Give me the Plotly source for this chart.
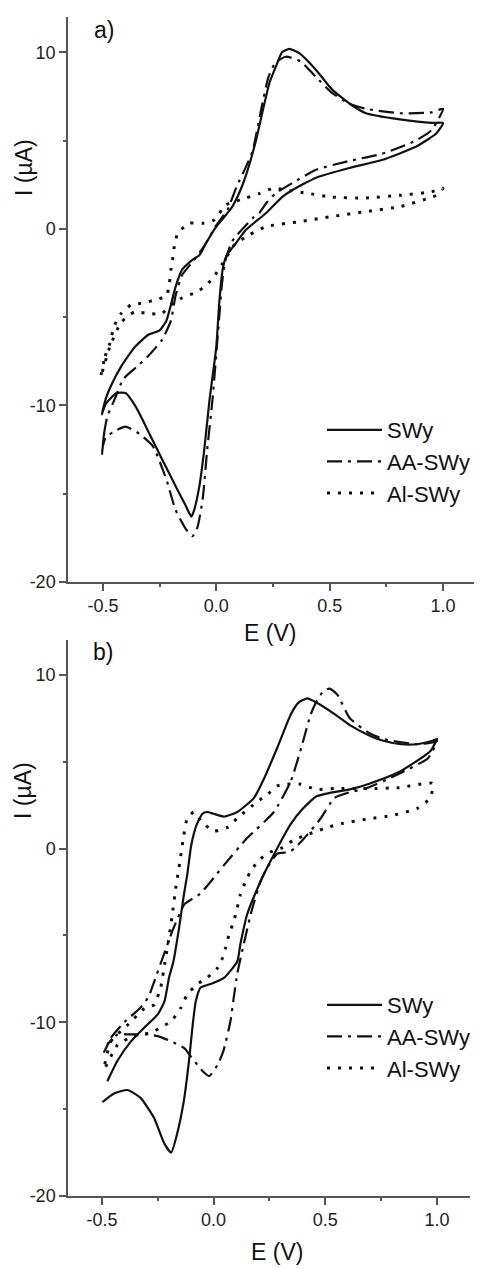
import plotly.graph_objects as go

# ---------------- data ----------------
SERIES = ["SWy", "AA-SWy", "Al-SWy"]

# Panel a) -- SWy
E_A_SWY = [-0.505, -0.487, -0.465, -0.42, -0.36, -0.30, -0.25, -0.22, -0.20, -0.18, -0.15, -0.105, -0.075,
           -0.045, 0.0, 0.043, 0.07, 0.10, 0.13, 0.175, 0.205, 0.234, 0.263, 0.29, 0.322, 0.366, 0.44, 0.51,
           0.587, 0.66, 0.81, 0.95, 1.0,
           0.97, 0.88, 0.73, 0.587, 0.44, 0.336, 0.29, 0.22, 0.13, 0.087, 0.043, 0.028, 0.013, 0.0, -0.03,
           -0.053, -0.075, -0.097, -0.11, -0.134, -0.178, -0.237, -0.295, -0.354, -0.40, -0.44, -0.487, -0.505]
I_A_SWY = [-10.5, -9.6, -8.9, -7.8, -6.7, -6.0, -5.75, -5.2, -4.3, -3.3, -2.3, -1.75, -1.5,
           -0.8, 0.13, 0.8, 1.25, 2.0, 3.0, 5.0, 6.7, 8.25, 9.2, 10.0, 10.2, 9.95, 9.0, 7.9,
           7.1, 6.55, 6.2, 6.0, 6.0,
           5.4, 4.65, 3.9, 3.45, 2.9, 2.2, 1.8, 0.9, -0.06, -0.8, -1.57, -2.3, -4.2, -6.7, -9.7,
           -12.5, -14.6, -15.9, -16.3, -15.7, -14.6, -13.1, -11.6, -10.1, -9.3, -9.3, -9.9, -10.5]

# Panel a) -- AA-SWy
E_A_AA = [-0.505, -0.495, -0.48, -0.45, -0.41, -0.35, -0.30, -0.24, -0.20, -0.18, -0.15, -0.10, -0.05, 0.0,
          0.05, 0.09, 0.13, 0.16, 0.20, 0.23, 0.26, 0.307, 0.37, 0.44, 0.51, 0.587, 0.66, 0.81, 0.95, 1.0,
          0.95, 0.88, 0.73, 0.587, 0.44, 0.336, 0.26, 0.22, 0.19, 0.16, 0.07, 0.04, 0.025, 0.013, -0.017,
          -0.04, -0.06, -0.083, -0.105, -0.134, -0.18, -0.22, -0.28, -0.34, -0.40, -0.44, -0.487, -0.50, -0.505]
I_A_AA = [-12.9, -11.6, -10.6, -9.7, -8.5, -7.8, -7.2, -6.3, -5.2, -3.8, -2.6, -1.8, -0.9, 0.2,
          1.1, 2.4, 3.5, 4.4, 6.9, 8.6, 9.4, 9.75, 9.5, 8.6, 7.7, 7.1, 6.8, 6.55, 6.6, 6.8,
          5.6, 5.0, 4.25, 3.85, 3.35, 2.6, 2.0, 1.45, 0.9, 0.6, -0.7, -1.8, -3.1, -5.0, -9.7,
          -12.5, -15.3, -16.9, -17.4, -17.0, -15.9, -14.2, -12.3, -11.6, -11.2, -11.4, -11.8, -12.3, -12.9]

# Panel a) -- Al-SWy
E_A_AL = [-0.51, -0.49, -0.47, -0.45, -0.42, -0.376, -0.32, -0.266, -0.22, -0.207, -0.20, -0.193, -0.185,
          -0.17, -0.12, -0.06, -0.01, 0.043, 0.13, 0.19, 0.25, 0.31, 0.41, 0.51, 0.66, 0.81, 0.95, 1.0,
          0.97, 0.94, 0.81, 0.66, 0.51, 0.37, 0.22, 0.146, 0.08, 0.04, -0.01, -0.045, -0.09, -0.15, -0.20,
          -0.24, -0.30, -0.36, -0.42, -0.47, -0.51]
I_A_AL = [-8.4, -7.2, -6.5, -5.5, -4.8, -4.3, -4.2, -4.0, -3.8, -3.1, -2.3, -1.75, -1.0,
          -0.25, 0.32, 0.32, 0.5, 1.36, 1.74, 2.0, 2.3, 2.2, 2.0, 1.8, 1.75, 1.9, 2.1, 2.3,
          1.9, 1.75, 1.26, 0.98, 0.7, 0.41, 0.13, -0.34, -0.9, -1.7, -2.7, -3.2, -3.6, -3.9, -4.3,
          -4.8, -4.8, -4.7, -5.3, -6.7, -8.4]

# Panel b) -- SWy
E_B_SWY = [-0.476, -0.43, -0.37, -0.31, -0.25, -0.22, -0.20, -0.18, -0.155, -0.133, -0.118, -0.10, -0.075,
           -0.05, -0.03, 0.0, 0.046, 0.106, 0.18, 0.225, 0.285, 0.345, 0.38, 0.42, 0.46, 0.54, 0.61, 0.69,
           0.76, 0.84, 0.91, 0.98, 1.0,
           0.97, 0.83, 0.69, 0.61, 0.52, 0.46, 0.40, 0.345, 0.285, 0.24, 0.21, 0.15, 0.12, 0.106, 0.046,
           -0.013, -0.058, -0.08, -0.095, -0.11, -0.133, -0.163, -0.19, -0.22, -0.267, -0.327, -0.386,
           -0.446, -0.498]
I_B_SWY = [-13.4, -12.2, -11.1, -10.3, -9.55, -8.8, -7.45, -6.5, -4.6, -2.65, -1.5, 0.2, 1.4,
           2.0, 2.1, 2.0, 1.84, 2.1, 2.9, 4.0, 5.8, 7.7, 8.4, 8.64, 8.4, 7.75, 7.1, 6.55,
           6.2, 6.0, 6.0, 6.2, 6.3,
           5.6, 4.4, 3.7, 3.4, 3.2, 3.0, 2.3, 1.4, 0.02, -1.1, -1.9, -3.8, -5.5, -6.5, -7.45,
           -7.8, -8.0, -8.8, -10.3, -12.2, -14.5, -16.4, -17.5, -17.0, -15.5, -14.35, -13.9,
           -14.1, -14.6]

# Panel b) -- AA-SWy
E_B_AA = [-0.49, -0.46, -0.40, -0.33, -0.29, -0.27, -0.22, -0.18, -0.13, -0.06, 0.0, 0.05, 0.15, 0.27,
          0.345, 0.397, 0.434, 0.46, 0.494, 0.52, 0.554, 0.61, 0.69, 0.76, 0.91, 0.98, 1.0,
          0.96, 0.83, 0.69, 0.60, 0.54, 0.48, 0.42, 0.37, 0.34, 0.285, 0.24, 0.21, 0.17, 0.135, 0.106,
          0.09, 0.076, 0.045, 0.02, -0.02, -0.05, -0.07, -0.10, -0.13, -0.19, -0.25, -0.30, -0.38, -0.43,
          -0.47, -0.49]
I_B_AA = [-11.7, -10.9, -10.0, -9.2, -8.5, -7.8, -6.0, -4.6, -3.2, -2.6, -1.7, -0.9, 0.6, 2.1,
          3.85, 6.0, 7.7, 8.45, 9.1, 9.2, 8.85, 7.5, 6.7, 6.3, 6.0, 6.1, 6.2,
          5.2, 4.3, 3.5, 3.2, 2.9, 1.74, 0.8, 0.1, -0.2, -0.3, -1.1, -1.9, -3.6, -5.5, -7.2,
          -8.6, -9.9, -11.6, -12.4, -13.1, -12.8, -12.5, -12.0, -11.5, -11.1, -10.8, -10.7, -10.7, -10.7,
          -11.2, -11.7]

# Panel b) -- Al-SWy
E_B_AL = [-0.49, -0.46, -0.38, -0.31, -0.267, -0.237, -0.22, -0.20, -0.185, -0.17, -0.155, -0.148, -0.133,
          -0.118, -0.088, -0.05, 0.0, 0.06, 0.106, 0.196, 0.24, 0.285, 0.33, 0.39, 0.46, 0.54, 0.69, 0.83,
          0.98,
          0.97, 0.91, 0.80, 0.69, 0.58, 0.52, 0.42, 0.36, 0.30, 0.255, 0.21, 0.17, 0.143, 0.12, 0.106,
          0.09, 0.07, 0.054, 0.04, 0.016, -0.03, -0.073, -0.118, -0.148, -0.19, -0.237, -0.28, -0.36,
          -0.43, -0.49]
I_B_AL = [-12.7, -11.1, -10.1, -9.2, -9.0, -8.0, -6.7, -5.15, -3.8, -2.3, -1.1, -0.5, 0.8,
          1.74, 2.1, 1.5, 1.0, 1.2, 1.74, 2.7, 3.1, 3.6, 3.7, 3.7, 3.4, 3.45, 3.45, 3.5,
          3.75,
          2.9, 2.3, 1.9, 1.7, 1.45, 1.26, 0.8, 0.5, 0.0, -0.2, -0.6, -1.2, -1.9, -2.65, -3.4,
          -4.2, -4.9, -5.7, -6.3, -6.9, -7.45, -7.8, -8.4, -9.2, -9.95, -10.3, -10.6, -10.8,
          -11.3, -12.7]

X_TICKS = [-0.5, 0.0, 0.5, 1.0]
X_TICKTEXT = ["-0.5", "0.0", "0.5", "1.0"]
Y_TICKS = [-20, -10, 0, 10]
Y_TICKTEXT = ["-20", "-10", "0", "10"]

# ---------------- styling ----------------
FONT = "Arial, 'Liberation Sans', sans-serif"
INK = "#111111"
AXC = "#555555"
STYLES = {
    "SWy": dict(width=2.2, dash="solid"),
    "AA-SWy": dict(width=2.2, dash="15px,6px,3px,6px"),
    "Al-SWy": dict(width=3, dash="3px,8px"),
}

# the page body has an 8px margin: lay the figure out in reference pixels minus that offset
OFF = 8
W, H = 482 - OFF, 1269 - OFF
PLOT_L, PLOT_R, PLOT_T, PLOT_B = 68 - OFF, 480 - OFF, 17 - OFF, 1196 - OFF
ML, MR, MT, MB = PLOT_L, W - PLOT_R, PLOT_T, H - PLOT_B


def px_to_paper_x(px):
    return (px - OFF - PLOT_L) / (PLOT_R - PLOT_L)


def px_to_paper_y(py):
    return (PLOT_B - (py - OFF)) / (PLOT_B - PLOT_T)


fig = go.Figure()

panels = [
    ("x", "y", "legend", [(E_A_SWY, I_A_SWY), (E_A_AA, I_A_AA), (E_A_AL, I_A_AL)]),
    ("x2", "y2", "legend2", [(E_B_SWY, I_B_SWY), (E_B_AA, I_B_AA), (E_B_AL, I_B_AL)]),
]
for xa, ya, leg, data in panels:
    for name, (e, i) in zip(SERIES, data):
        st = STYLES[name]
        fig.add_trace(go.Scatter(
            x=e, y=i, mode="lines", name=name, xaxis=xa, yaxis=ya, legend=leg,
            line=dict(color=INK, width=st["width"], dash=st["dash"], shape="spline", smoothing=0.5),
            hoverinfo="skip",
        ))

axis_common = dict(
    showline=True, linecolor=AXC, linewidth=1.5, mirror=False,
    ticks="outside", ticklen=7, tickwidth=1.5, tickcolor=AXC,
    showgrid=False, zeroline=False,
    tickfont=dict(family=FONT, size=18, color="#222"),
)
xminor = dict(dtick=0.25, tick0=0, ticks="outside", ticklen=3, tickcolor=AXC, tickwidth=1.5)
yminor = dict(dtick=5, tick0=0, ticks="outside", ticklen=3, tickcolor=AXC, tickwidth=1.5)

fig.update_layout(
    width=W, height=H,
    margin=dict(l=ML, r=MR, t=MT, b=MB),
    paper_bgcolor="white", plot_bgcolor="white",
    font=dict(family=FONT, color=INK),
    xaxis=dict(domain=[0, 1], range=[-0.654, 1.163], anchor="y",
               tickvals=X_TICKS, ticktext=X_TICKTEXT, minor=xminor, **axis_common),
    yaxis=dict(domain=[px_to_paper_y(582), 1.0], range=[-20, 12], anchor="x",
               tickvals=Y_TICKS, ticktext=Y_TICKTEXT, minor=yminor, **axis_common),
    xaxis2=dict(domain=[0, px_to_paper_x(470)], range=[-0.652, 1.148], anchor="y2",
                tickvals=X_TICKS, ticktext=X_TICKTEXT, minor=xminor, **axis_common),
    yaxis2=dict(domain=[0, px_to_paper_y(640)], range=[-20, 12], anchor="x2",
                tickvals=Y_TICKS, ticktext=Y_TICKTEXT, minor=yminor, **axis_common),
    legend=dict(x=px_to_paper_x(322), y=px_to_paper_y(409), xanchor="left", yanchor="top",
                bgcolor="rgba(0,0,0,0)", borderwidth=0, itemwidth=55,
                font=dict(family=FONT, size=22, color=INK), tracegroupgap=0),
    legend2=dict(x=px_to_paper_x(322), y=px_to_paper_y(984), xanchor="left", yanchor="top",
                 bgcolor="rgba(0,0,0,0)", borderwidth=0, itemwidth=55,
                 font=dict(family=FONT, size=22, color=INK), tracegroupgap=0),
    showlegend=True,
)

annots = [
    ("a)", 104, 30, 23, 0),
    ("b)", 103, 652, 23, 0),
    ("E (V)", 270, 633, 23, 0),
    ("E (V)", 277, 1252, 23, 0),
    ("I (µA)", 24, 168, 23, -90),
    ("I (µA)", 23, 791, 23, -90),
]
for text, px, py, size, ang in annots:
    fig.add_annotation(
        x=px_to_paper_x(px), y=px_to_paper_y(py), xref="paper", yref="paper",
        text=text, showarrow=False, textangle=ang,
        xanchor="center", yanchor="middle",
        font=dict(family=FONT, size=size, color=INK),
    )

fig.write_html("out.html")
